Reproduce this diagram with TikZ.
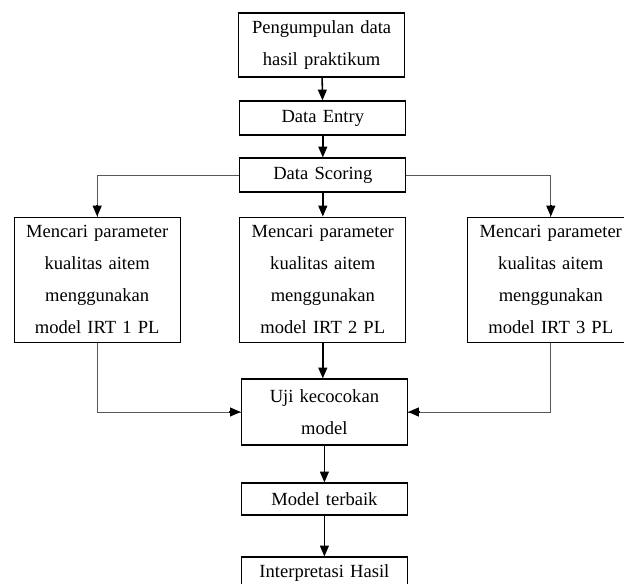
\documentclass[tikz,border=0pt]{standalone}
\usepackage{fontspec}
\setmainfont{Liberation Serif}
\usetikzlibrary{positioning, arrows.meta}

\begin{document}
\begin{tikzpicture}[
		box/.style={draw, line width=0.8pt, align=center, text width=3.9cm, minimum width=4.15cm,
			inner sep=2pt, font=\fontsize{13.2}{22.7}\selectfont},
		arr/.style={line width=1.1pt, -{Triangle[length=0.27cm,width=0.22cm]}},
		side/.style={line width=0.5pt, black!65}
	]
		\useasboundingbox (0,0) rectangle (15.6,-14.575);

		\node[box, minimum height=1.6cm] (A) at (8.04,-1.125) {Pengumpulan data\\hasil praktikum};
		\node[box, minimum height=0.85cm] (B) at (8.07,-2.95) {Data Entry};
		\node[box, minimum height=0.85cm] (C) at (8.07,-4.375) {Data Scoring};

		\node[box, minimum height=3.125cm] (D1) at (2.43,-6.99) {Mencari parameter\\kualitas aitem\\menggunakan\\model IRT 1 PL};
		\node[box, minimum height=3.125cm] (D2) at (8.07,-6.99) {Mencari parameter\\kualitas aitem\\menggunakan\\model IRT 2 PL};
		\node[box, minimum height=3.125cm] (D3) at (13.77,-6.99) {Mencari parameter\\kualitas aitem\\menggunakan\\model IRT 3 PL};

		\node[box, minimum height=1.65cm] (E) at (8.11,-10.3) {Uji kecocokan\\model};
		\node[box, minimum height=0.8cm] (F) at (8.11,-12.475) {Model terbaik};
		\node[box, minimum height=0.8cm] (G) at (8.11,-14.325) {Interpretasi Hasil};

		\path[arr] (A) edge (B);
		\path[arr] (B) edge (C);
		\path[arr] (C) edge (C |- D2.north);
		\draw[side] (C.west) -| (D1.north);
		\draw[arr] (D1.north) ++(0,0.3) -- (D1.north);
		\draw[side] (C.east) -| (D3.north);
		\draw[arr] (D3.north) ++(0,0.3) -- (D3.north);

		\path[arr] (D2) edge (D2 |- E.north);
		\draw[side] (D1.south) |- (E.west);
		\draw[arr] (E.west) ++(-0.3,0) -- (E.west);
		\draw[side] (D3.south) |- (E.east);
		\draw[arr] (E.east) ++(0.3,0) -- (E.east);

		\path[arr] (E) edge (F);
		\path[arr] (F) edge (G);
	\end{tikzpicture}
\end{document}
